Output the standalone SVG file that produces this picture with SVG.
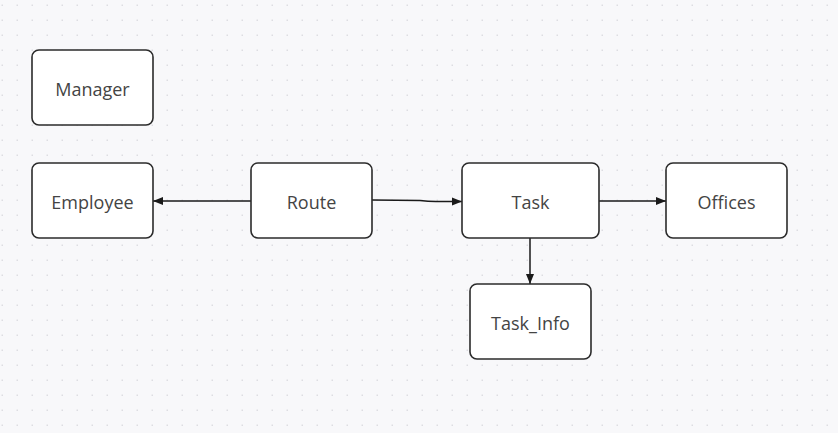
<svg xmlns="http://www.w3.org/2000/svg" width="838" height="433" viewBox="0 0 838 433">
<defs>
<pattern id="dots" x="0" y="0" width="15" height="15" patternUnits="userSpaceOnUse">
<rect x="1.5" y="4.5" width="1.5" height="1.5" fill="#dddde2"/>
</pattern>
<marker id="arr" viewBox="0 0 10 10" refX="10" refY="5" markerWidth="10" markerHeight="10" markerUnits="userSpaceOnUse" orient="auto">
<path d="M0,1 L10,5 L0,9 Z" fill="#1a1a1a"/>
</marker>
</defs>
<style>
.box{fill:#ffffff;stroke:#2b2b2b;stroke-width:1.6}
.lbl{font-family:"Open Sans","Noto Sans",sans-serif;font-size:18px;fill:#444444;text-anchor:middle;dominant-baseline:central}
.edge{fill:none;stroke:#1a1a1a;stroke-width:1.5;marker-end:url(#arr)}
</style>
<rect width="838" height="433" fill="#f8f8fa"/>
<rect width="838" height="433" fill="url(#dots)"/>
<g id="connectors">
<path class="edge" d="M251,201 L153,201"/>
<path class="edge" d="M372,200 L420,200.5 Q428,201.5 436,201.5 L462,201.5"/>
<path class="edge" d="M599,201 L666,201"/>
<path class="edge" d="M530,238 L530,284"/>
</g>
<g id="manager"><rect class="box" x="32" y="50" width="121" height="75" rx="7"/><text class="lbl" x="92.5" y="88.5">Manager</text></g>
<g id="employee"><rect class="box" x="32" y="163" width="121" height="75" rx="7"/><text class="lbl" x="92.5" y="201.5">Employee</text></g>
<g id="route"><rect class="box" x="251" y="163" width="121" height="75" rx="7"/><text class="lbl" x="311.5" y="201.5">Route</text></g>
<g id="task"><rect class="box" x="462" y="163" width="137" height="75" rx="7"/><text class="lbl" x="530.5" y="201.5">Task</text></g>
<g id="offices"><rect class="box" x="666" y="163" width="121" height="75" rx="7"/><text class="lbl" x="726.5" y="201.5">Offices</text></g>
<g id="task_info"><rect class="box" x="470" y="284" width="121" height="75" rx="7"/><text class="lbl" x="530.5" y="322.5">Task_Info</text></g>
</svg>
